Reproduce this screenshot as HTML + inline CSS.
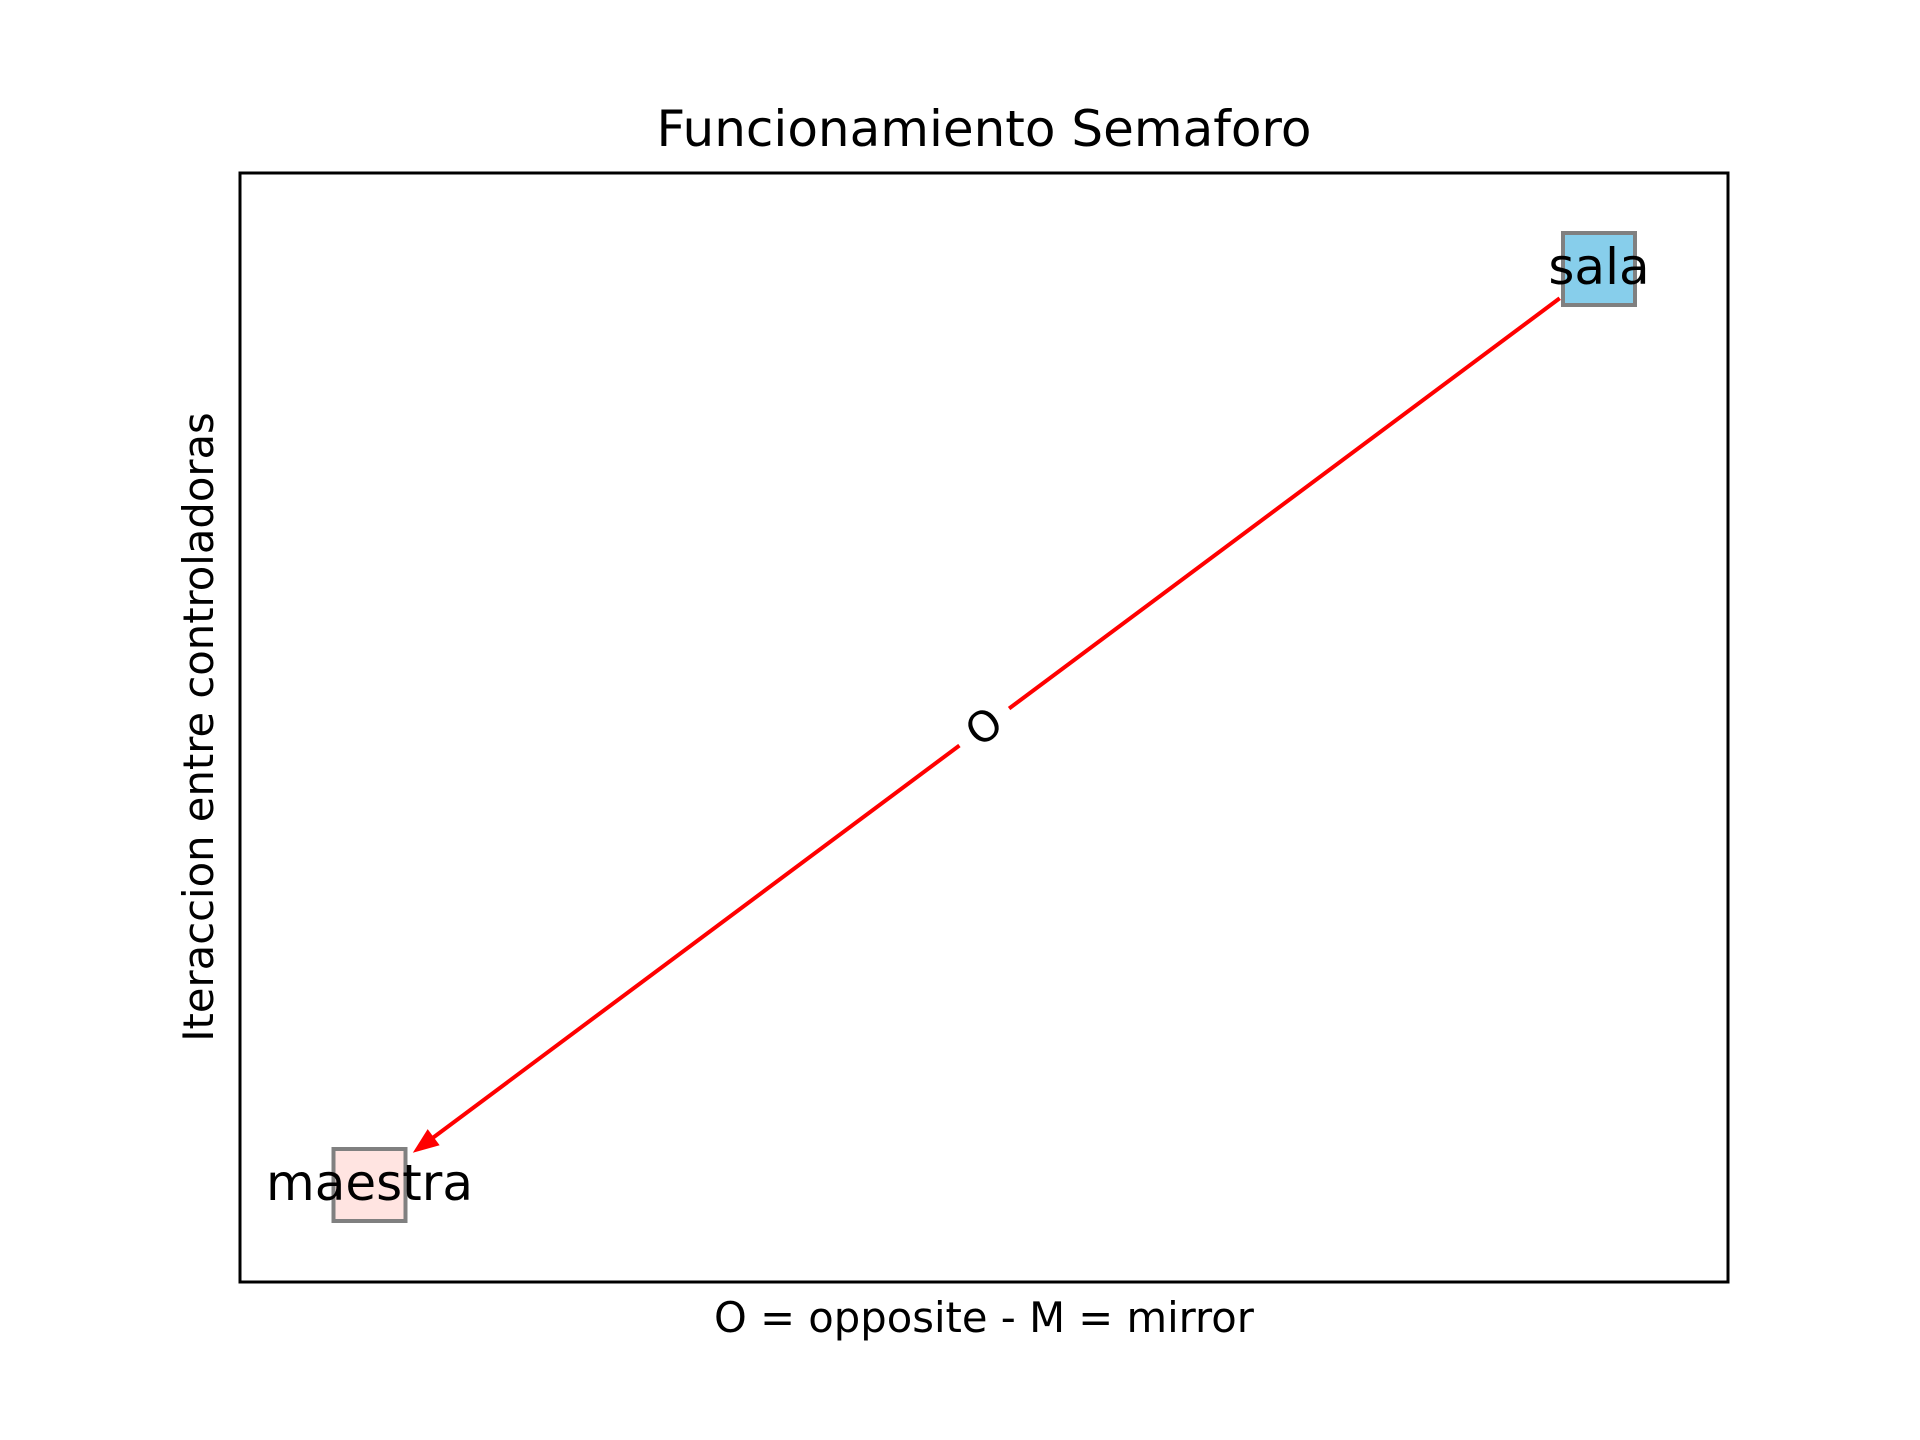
<!DOCTYPE html>
<html><head><meta charset="utf-8"><style>
html,body{margin:0;padding:0;background:#fff;}
svg{display:block;font-family:"DejaVu Sans","Liberation Sans",sans-serif;}
</style></head><body>
<svg id="chart" width="1920" height="1440" viewBox="0 0 1920 1440" xmlns="http://www.w3.org/2000/svg">
<rect x="0" y="0" width="1920" height="1440" fill="#fff"/>
<text x="984" y="146" font-size="50" text-anchor="middle" fill="#000">Funcionamiento Semaforo</text>
<rect x="240" y="173" width="1488" height="1109" fill="none" stroke="#000" stroke-width="3"/>
<text x="984" y="1332" font-size="41.7" text-anchor="middle" fill="#000">O = opposite - M = mirror</text>
<text x="0" y="0" font-size="41.7" text-anchor="middle" fill="#000" transform="translate(213,727) rotate(-90)">Iteraccion entre controladoras</text>
<g id="edges"></g>
<g id="nodes"></g>
</svg>
<script>
const nodeNames = ["sala", "maestra"];
const nodeX = [1, 0];
const nodeY = [1, 0];
const nodeColors = ["#87ceeb", "#ffe4e1"];
const edgeFrom = [0];
const edgeTo = [1];
const edgeLabels = ["O"];

function sx(v){ return 369.5 + v * (1599 - 369.5); }
function sy(v){ return 1185 - v * (1185 - 269); }

const NS = "http://www.w3.org/2000/svg";
const eg = document.getElementById("edges");
const ng = document.getElementById("nodes");

for (let i = 0; i < nodeNames.length; i++) {
  const cx = sx(nodeX[i]), cy = sy(nodeY[i]);
  const r = document.createElementNS(NS, "rect");
  r.setAttribute("x", cx - 36); r.setAttribute("y", cy - 36);
  r.setAttribute("width", 72); r.setAttribute("height", 72);
  r.setAttribute("fill", nodeColors[i]);
  r.setAttribute("stroke", "#808080"); r.setAttribute("stroke-width", "4");
  
  
  ng.appendChild(r);
}
for (let i = 0; i < nodeNames.length; i++) {
  const cx = sx(nodeX[i]), cy = sy(nodeY[i]);
  const t = document.createElementNS(NS, "text");
  t.setAttribute("x", cx); t.setAttribute("y", cy + 15);
  t.setAttribute("font-size", "50"); t.setAttribute("text-anchor", "middle");
  t.setAttribute("fill", "#000");
  t.textContent = nodeNames[i];
  
  
  ng.appendChild(t);
}

for (let k = 0; k < edgeFrom.length; k++) {
  const x1 = sx(nodeX[edgeFrom[k]]), y1 = sy(nodeY[edgeFrom[k]]);
  const x2 = sx(nodeX[edgeTo[k]]), y2 = sy(nodeY[edgeTo[k]]);
  const dx = x2 - x1, dy = y2 - y1, L = Math.hypot(dx, dy);
  const ux = dx / L, uy = dy / L;
  const sxp = x1 + ux * 49, syp = y1 + uy * 49;
  const tx = x2 - ux * 54, ty = y2 - uy * 54;
  const ah = 26, aw = 10;
  const bx = tx - ux * ah, by = ty - uy * ah;
  const line = document.createElementNS(NS, "line");
  line.setAttribute("x1", sxp); line.setAttribute("y1", syp);
  line.setAttribute("x2", bx + ux * 4); line.setAttribute("y2", by + uy * 4);
  line.setAttribute("stroke", "#ff0000"); line.setAttribute("stroke-width", "4");
  
  
  eg.appendChild(line);
  const head = document.createElementNS(NS, "polygon");
  head.setAttribute("points", tx + "," + ty + " " + (bx - uy * aw) + "," + (by + ux * aw) + " " + (bx + uy * aw) + "," + (by - ux * aw));
  head.setAttribute("fill", "#ff0000");
  
  
  eg.appendChild(head);
  const mx = (x1 + x2) / 2, my = (y1 + y2) / 2;
  let ang = Math.atan2(dy, dx) * 180 / Math.PI;
  if (ang > 90) ang -= 180; if (ang < -90) ang += 180;
  const g = document.createElementNS(NS, "g");
  g.setAttribute("transform", "translate(" + mx + "," + my + ") rotate(" + ang + ")");
  
  
  const bg = document.createElementNS(NS, "rect");
  bg.setAttribute("x", -31); bg.setAttribute("y", -26);
  bg.setAttribute("width", 62); bg.setAttribute("height", 52);
  bg.setAttribute("fill", "#fff");
  
  
  g.appendChild(bg);
  const t = document.createElementNS(NS, "text");
  t.setAttribute("x", 0); t.setAttribute("y", 14);
  t.setAttribute("font-size", "42"); t.setAttribute("text-anchor", "middle");
  t.setAttribute("fill", "#000");
  t.textContent = edgeLabels[k];
  
  
  g.appendChild(t);
  eg.appendChild(g);
}
</script>
</body></html>
